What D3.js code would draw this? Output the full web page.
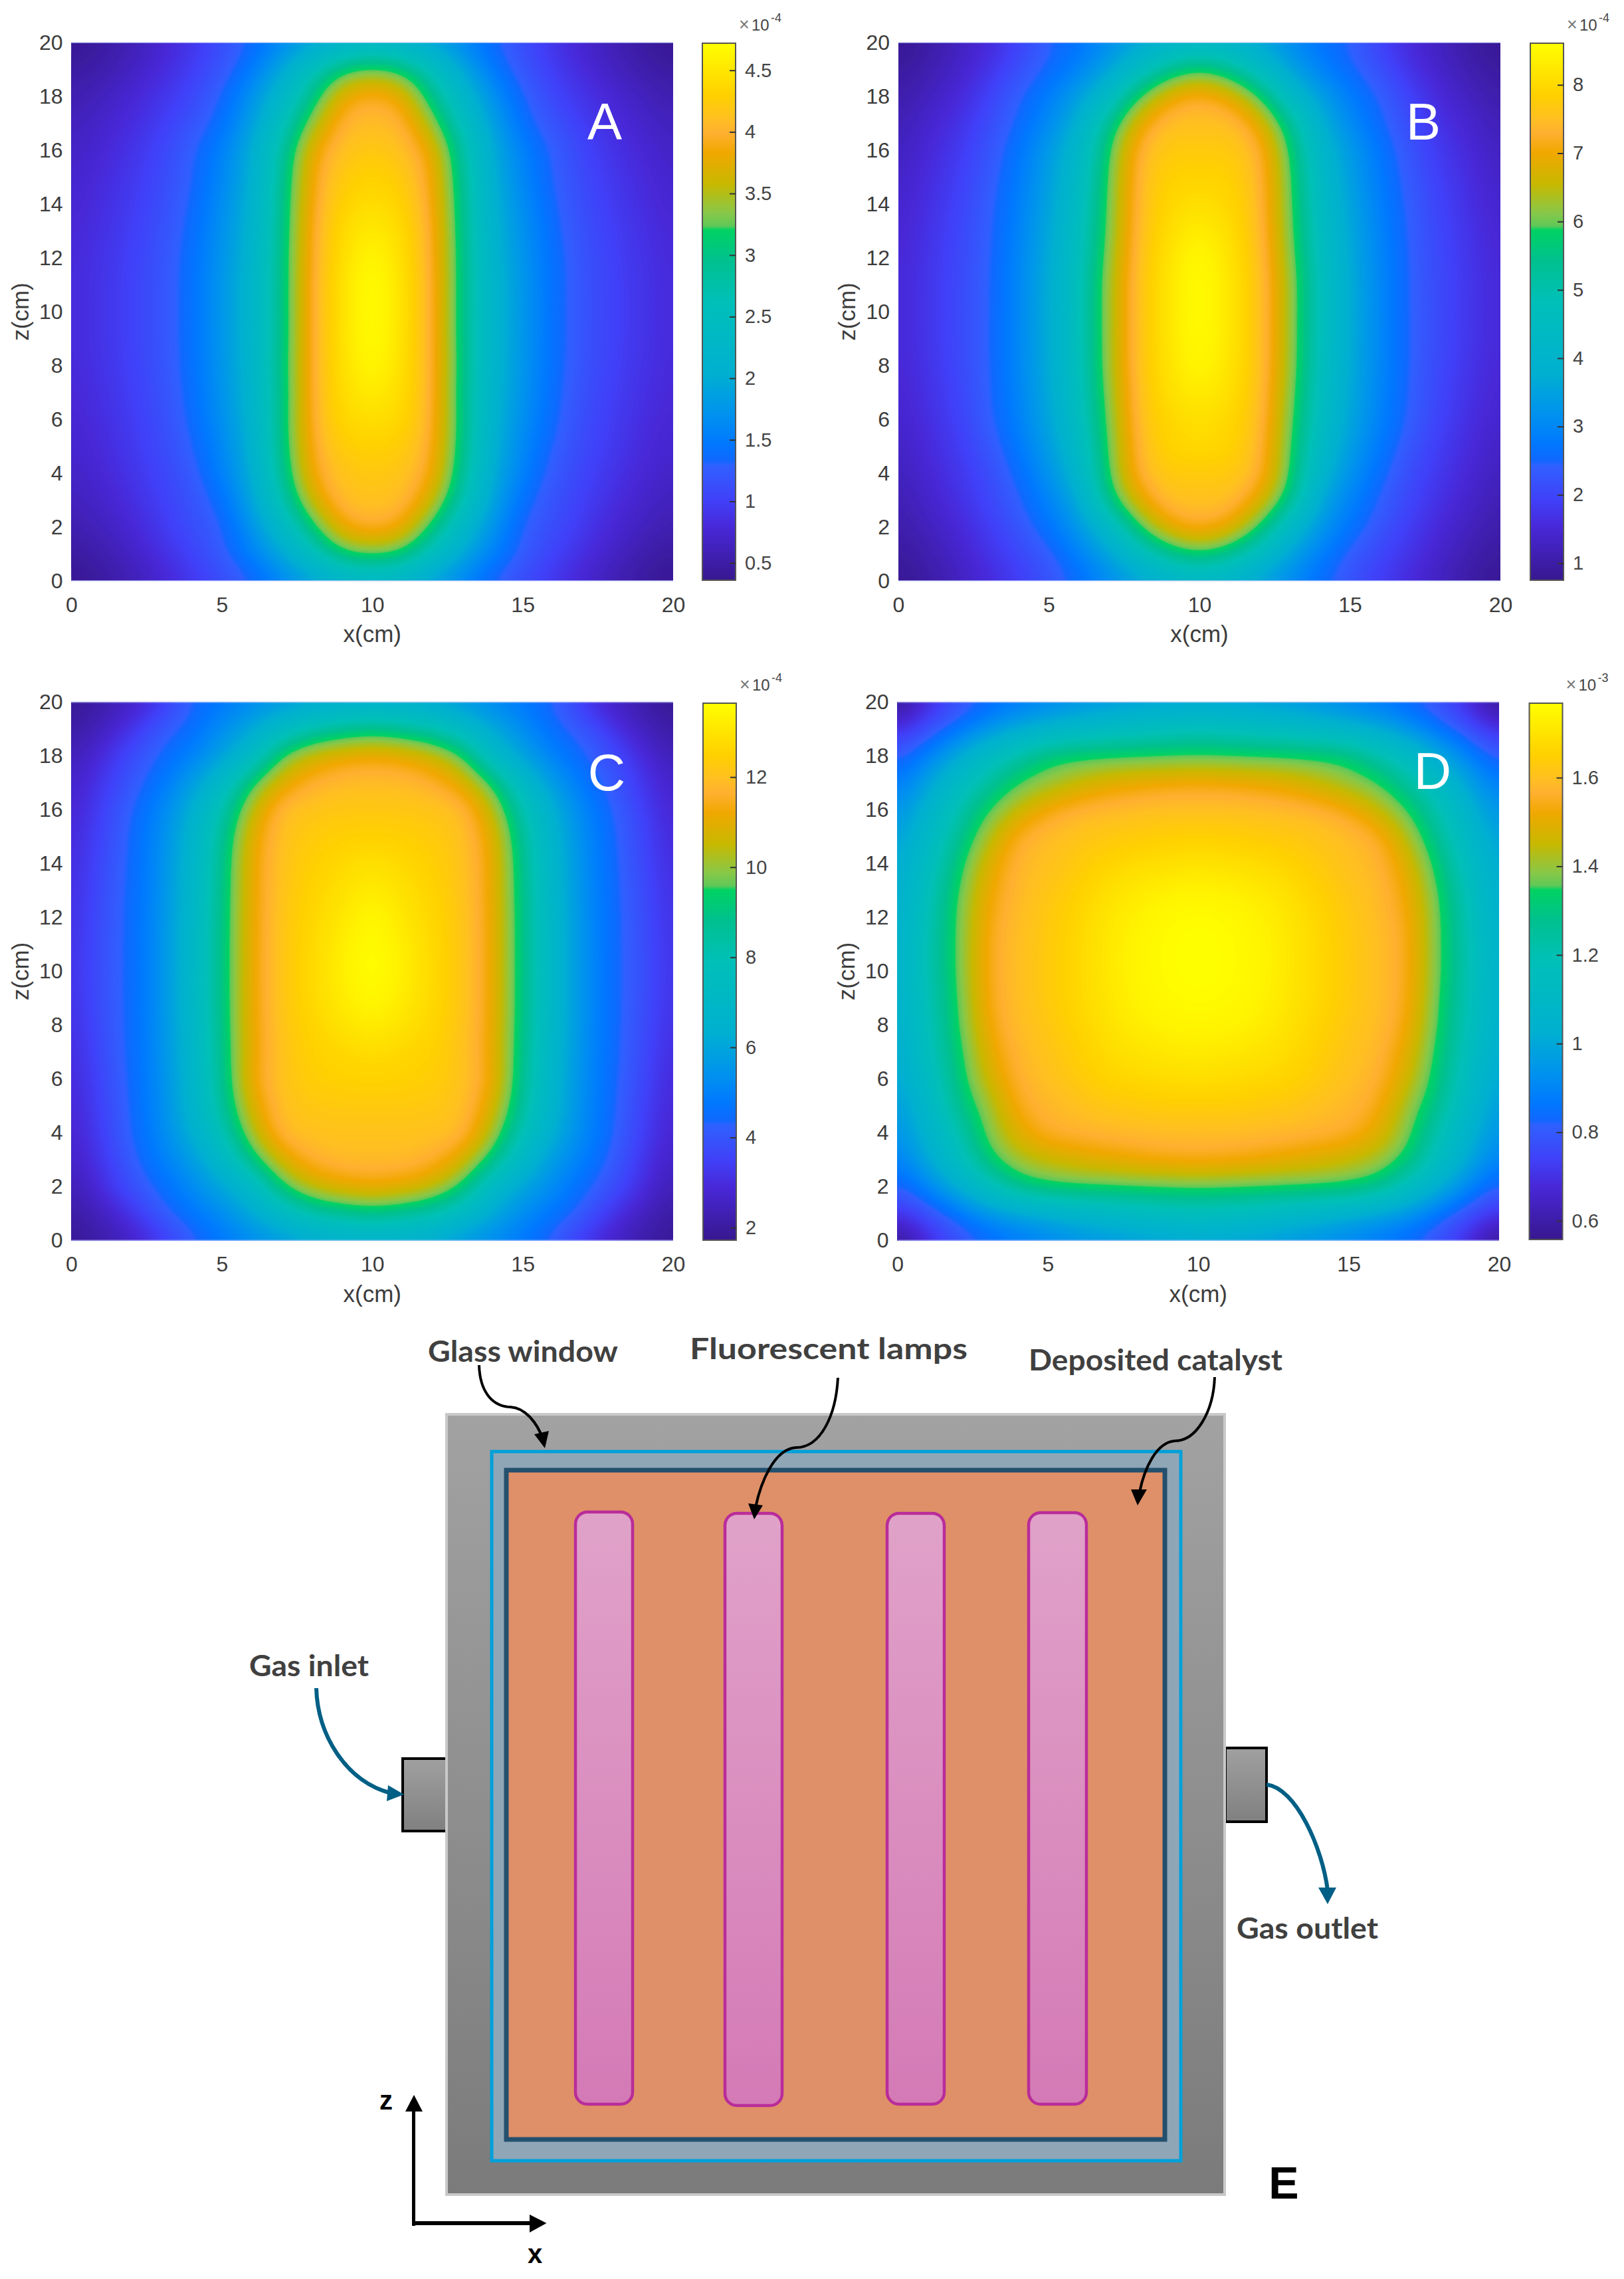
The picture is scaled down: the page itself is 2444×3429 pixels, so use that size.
<!DOCTYPE html>
<html>
<head>
<meta charset="utf-8">
<title>Panels A-D and reactor sketch E</title>
<script src="https://d3js.org/d3.v7.min.js"></script>
<style>
  html, body { margin: 0; padding: 0; background: #fff; }
  svg { display: block; }
  text { font-family: "Liberation Sans", Arial, sans-serif; }
</style>
</head>
<body>
<div id="chart"></div>
<script>
// axis ticks
var xTicks = [0, 5, 10, 15, 20];
var zTicks = [0, 2, 4, 6, 8, 10, 12, 14, 16, 18, 20];
var gridX = [0, 20];

// colour bar ticks and ranges
var barTicksA = [0.5, 1, 1.5, 2, 2.5, 3, 3.5, 4, 4.5];
var barTicksB = [1, 2, 3, 4, 5, 6, 7, 8];
var barTicksC = [2, 4, 6, 8, 10, 12];
var barTicksD = [0.6, 0.8, 1, 1.2, 1.4, 1.6];
var rangeA = [0.36, 4.72];
var rangeB = [0.75, 8.61];
var rangeC = [1.72, 13.64];
var rangeD = [0.558, 1.768];

// colour map sampled off the bars, bottom (0) to top (1)
var colorStops = [0, 0.016, 0.099, 0.148, 0.213, 0.223, 0.255, 0.304, 0.387, 0.52, 0.594, 0.652, 0.66, 0.684, 0.738, 0.796, 0.833, 0.861, 0.903, 0.953, 1];
var colorValues = ["#38188f", "#3a1a9a", "#4828d8", "#4040f8", "#3060ff", "#1068ff", "#0078ff", "#0090f0", "#00b0d0", "#00c0b8", "#00c090", "#00d262", "#60c858", "#88c848", "#c8b800", "#f0a800", "#ffb030", "#ffc020", "#ffd000", "#ffe800", "#ffff00"];

// values at every 1 cm, one row per z (z = 0 first), x = 0..20
var valuesA = [
  [.36,.46,.58,.74,.92,1.1,1.3,1.58,1.85,2.08,2.2,2.08,1.85,1.58,1.3,1.1,.92,.74,.58,.46,.36],
  [.45,.54,.68,.85,1.03,1.25,1.55,1.95,2.5,3.12,3.28,3.12,2.5,1.95,1.55,1.25,1.03,.85,.68,.54,.45],
  [.55,.64,.77,.94,1.12,1.3,1.72,2.3,3.1,3.8,3.95,3.8,3.1,2.3,1.72,1.3,1.12,.94,.77,.64,.55],
  [.62,.71,.84,1,1.17,1.42,1.9,2.7,3.6,4.08,4.12,4.08,3.6,2.7,1.9,1.42,1.17,1,.84,.71,.62],
  [.68,.77,.9,1.05,1.23,1.55,2,2.9,3.85,4.15,4.2,4.15,3.85,2.9,2,1.55,1.23,1.05,.9,.77,.68],
  [.72,.81,.94,1.09,1.3,1.62,2.08,3,3.92,4.25,4.3,4.25,3.92,3,2.08,1.62,1.3,1.09,.94,.81,.72],
  [.75,.84,.97,1.12,1.36,1.68,2.13,3.02,3.97,4.35,4.42,4.35,3.97,3.02,2.13,1.68,1.36,1.12,.97,.84,.75],
  [.77,.87,.99,1.15,1.39,1.72,2.17,3,3.98,4.4,4.55,4.4,3.98,3,2.17,1.72,1.39,1.15,.99,.87,.77],
  [.79,.89,1.01,1.17,1.41,1.74,2.19,3.02,3.99,4.43,4.66,4.43,3.99,3.02,2.19,1.74,1.41,1.17,1.01,.89,.79],
  [.8,.9,1.02,1.18,1.42,1.75,2.2,3,3.98,4.45,4.71,4.45,3.98,3,2.2,1.75,1.42,1.18,1.02,.9,.8],
  [.8,.9,1.02,1.18,1.42,1.75,2.2,3,3.98,4.45,4.72,4.45,3.98,3,2.2,1.75,1.42,1.18,1.02,.9,.8],
  [.8,.9,1.02,1.18,1.42,1.75,2.2,3,3.98,4.45,4.72,4.45,3.98,3,2.2,1.75,1.42,1.18,1.02,.9,.8],
  [.79,.89,1.01,1.17,1.41,1.73,2.17,3,3.96,4.42,4.65,4.42,3.96,3,2.17,1.73,1.41,1.17,1.01,.89,.79],
  [.77,.87,.99,1.15,1.38,1.7,2.13,2.98,3.94,4.38,4.55,4.38,3.94,2.98,2.13,1.7,1.38,1.15,.99,.87,.77],
  [.74,.84,.96,1.12,1.34,1.66,2.1,2.95,3.9,4.3,4.42,4.3,3.9,2.95,2.1,1.66,1.34,1.12,.96,.84,.74],
  [.71,.81,.93,1.09,1.3,1.6,2.04,2.9,3.85,4.22,4.32,4.22,3.85,2.9,2.04,1.6,1.3,1.09,.93,.81,.71],
  [.67,.77,.89,1.05,1.28,1.55,2,2.8,3.75,4.12,4.2,4.12,3.75,2.8,2,1.55,1.28,1.05,.89,.77,.67],
  [.62,.71,.83,.98,1.17,1.42,1.85,2.55,3.4,4,4.08,4,3.4,2.55,1.85,1.42,1.17,.98,.83,.71,.62],
  [.55,.64,.76,.9,1.07,1.33,1.7,2.25,3,3.75,3.92,3.75,3,2.25,1.7,1.33,1.07,.9,.76,.64,.55],
  [.46,.54,.66,.81,.98,1.2,1.5,1.95,2.55,3.12,3.3,3.12,2.55,1.95,1.5,1.2,.98,.81,.66,.54,.46],
  [.37,.46,.58,.74,.9,1.12,1.35,1.6,1.88,2.08,2.2,2.08,1.88,1.6,1.35,1.12,.9,.74,.58,.46,.37]
];
var valuesB = [
  [.78,.98,1.25,1.55,1.85,2.2,2.6,3.05,3.5,3.9,4.1,3.9,3.5,3.05,2.6,2.2,1.85,1.55,1.25,.98,.78],
  [.9,1.1,1.38,1.7,2.02,2.38,2.9,3.55,4.5,5.4,5.8,5.4,4.5,3.55,2.9,2.38,2.02,1.7,1.38,1.1,.9],
  [1.02,1.25,1.52,1.85,2.25,2.7,3.3,4.3,5.85,6.85,7.2,6.85,5.85,4.3,3.3,2.7,2.25,1.85,1.52,1.25,1.02],
  [1.12,1.38,1.66,2,2.42,2.95,3.65,5.5,6.8,7.5,7.5,7.5,6.8,5.5,3.65,2.95,2.42,2,1.66,1.38,1.12],
  [1.22,1.48,1.76,2.1,2.6,3.2,4.1,5.9,7.3,7.7,7.7,7.7,7.3,5.9,4.1,3.2,2.6,2.1,1.76,1.48,1.22],
  [1.3,1.56,1.85,2.25,2.78,3.4,4.35,6,7.4,7.9,8,7.9,7.4,6,4.35,3.4,2.78,2.25,1.85,1.56,1.3],
  [1.38,1.63,1.94,2.38,2.9,3.55,4.55,6.1,7.5,7.95,8.1,7.95,7.5,6.1,4.55,3.55,2.9,2.38,1.94,1.63,1.38],
  [1.44,1.68,1.99,2.42,2.96,3.63,4.65,6.2,7.55,8.1,8.3,8.1,7.55,6.2,4.65,3.63,2.96,2.42,1.99,1.68,1.44],
  [1.48,1.72,2.03,2.44,3,3.68,4.72,6.28,7.6,8.15,8.5,8.15,7.6,6.28,4.72,3.68,3,2.44,2.03,1.72,1.48],
  [1.5,1.75,2.05,2.45,3,3.7,4.75,6.3,7.6,8.2,8.58,8.2,7.6,6.3,4.75,3.7,3,2.45,2.05,1.75,1.5],
  [1.5,1.75,2.05,2.44,3,3.7,4.75,6.3,7.6,8.2,8.6,8.2,7.6,6.3,4.75,3.7,3,2.44,2.05,1.75,1.5],
  [1.5,1.75,2.05,2.44,3,3.7,4.75,6.3,7.6,8.2,8.6,8.2,7.6,6.3,4.75,3.7,3,2.44,2.05,1.75,1.5],
  [1.48,1.73,2.03,2.42,2.98,3.65,4.68,6.2,7.55,8.15,8.55,8.15,7.55,6.2,4.68,3.65,2.98,2.42,2.03,1.73,1.48],
  [1.44,1.7,2,2.4,2.93,3.6,4.6,6.1,7.5,8.05,8.35,8.05,7.5,6.1,4.6,3.6,2.93,2.4,2,1.7,1.44],
  [1.38,1.65,1.95,2.36,2.88,3.52,4.5,6.05,7.45,7.95,8.1,7.95,7.45,6.05,4.5,3.52,2.88,2.36,1.95,1.65,1.38],
  [1.32,1.6,1.88,2.3,2.8,3.42,4.35,6,7.4,7.85,7.9,7.85,7.4,6,4.35,3.42,2.8,2.3,1.88,1.6,1.32],
  [1.25,1.52,1.8,2.22,2.72,3.35,4.2,5.85,7.3,7.7,7.7,7.7,7.3,5.85,4.2,3.35,2.72,2.22,1.8,1.52,1.25],
  [1.15,1.42,1.68,2.08,2.55,3.05,3.85,5.4,6.85,7.5,7.5,7.5,6.85,5.4,3.85,3.05,2.55,2.08,1.68,1.42,1.15],
  [1.03,1.27,1.52,1.95,2.42,2.85,3.45,4.4,5.9,6.85,7.2,6.85,5.9,4.4,3.45,2.85,2.42,1.95,1.52,1.27,1.03],
  [.9,1.1,1.38,1.7,2.15,2.55,2.95,3.55,4.5,5.4,5.85,5.4,4.5,3.55,2.95,2.55,2.15,1.7,1.38,1.1,.9],
  [.78,.98,1.25,1.55,1.95,2.42,2.7,3.1,3.55,3.95,4.1,3.95,3.55,3.1,2.7,2.42,1.95,1.55,1.25,.98,.78]
];
var valuesC = [
  [1.8,2.15,2.6,3.3,4.15,4.7,5.2,5.6,6,6.25,6.35,6.25,6,5.6,5.2,4.7,4.15,3.3,2.6,2.15,1.8],
  [2.05,2.5,3.2,4.1,4.7,5.3,6.1,7.2,8.2,8.7,8.95,8.7,8.2,7.2,6.1,5.3,4.7,4.1,3.2,2.5,2.05],
  [2.3,3,3.85,4.5,5.2,6,7.1,9.3,10.5,10.95,11.15,10.95,10.5,9.3,7.1,6,5.2,4.5,3.85,3,2.3],
  [2.55,3.25,4.15,4.9,5.7,7,9,10.8,11.6,11.85,11.85,11.85,11.6,10.8,9,7,5.7,4.9,4.15,3.25,2.55],
  [2.7,3.45,4.35,5.15,6.3,7.9,10.2,11.8,12,12.05,12.05,12.05,12,11.8,10.2,7.9,6.3,5.15,4.35,3.45,2.7],
  [2.8,3.55,4.4,5.25,6.6,8.5,10.8,11.95,12.2,12.25,12.25,12.25,12.2,11.95,10.8,8.5,6.6,5.25,4.4,3.55,2.8],
  [2.88,3.65,4.45,5.3,6.7,8.7,11.2,12.05,12.4,12.5,12.55,12.5,12.4,12.05,11.2,8.7,6.7,5.3,4.45,3.65,2.88],
  [2.95,3.75,4.48,5.35,6.8,8.85,11.1,12.05,12.5,12.65,12.8,12.65,12.5,12.05,11.1,8.85,6.8,5.35,4.48,3.75,2.95],
  [3.05,3.8,4.5,5.38,6.85,8.9,11.15,12.1,12.6,12.95,13.2,12.95,12.6,12.1,11.15,8.9,6.85,5.38,4.5,3.8,3.05],
  [3.1,3.85,4.5,5.4,6.9,8.95,11.15,12.15,12.7,13.15,13.5,13.15,12.7,12.15,11.15,8.95,6.9,5.4,4.5,3.85,3.1],
  [3.15,3.85,4.5,5.4,6.9,8.95,11.15,12.15,12.7,13.25,13.64,13.25,12.7,12.15,11.15,8.95,6.9,5.4,4.5,3.85,3.15],
  [3.1,3.85,4.5,5.4,6.9,8.95,11.15,12.15,12.7,13.2,13.6,13.2,12.7,12.15,11.15,8.95,6.9,5.4,4.5,3.85,3.1],
  [3.08,3.82,4.5,5.38,6.87,8.92,11.15,12.12,12.65,13.05,13.5,13.05,12.65,12.12,11.15,8.92,6.87,5.38,4.5,3.82,3.08],
  [3.02,3.78,4.48,5.35,6.82,8.88,11.12,12.08,12.55,12.9,13.2,12.9,12.55,12.08,11.12,8.88,6.82,5.35,4.48,3.78,3.02],
  [2.95,3.7,4.45,5.32,6.75,8.8,11.1,12.05,12.45,12.7,12.9,12.7,12.45,12.05,11.1,8.8,6.75,5.32,4.45,3.7,2.95],
  [2.88,3.6,4.42,5.25,6.6,8.6,10.95,11.98,12.3,12.45,12.5,12.45,12.3,11.98,10.95,8.6,6.6,5.25,4.42,3.6,2.88],
  [2.75,3.48,4.3,5.1,6.3,8.15,10.4,11.85,12.1,12.2,12.2,12.2,12.1,11.85,10.4,8.15,6.3,5.1,4.3,3.48,2.75],
  [2.6,3.25,4.05,4.75,5.7,7.1,9.4,10.9,11.6,11.85,11.9,11.85,11.6,10.9,9.4,7.1,5.7,4.75,4.05,3.25,2.6],
  [2.35,2.95,3.75,4.4,5,5.9,7.2,9.6,10.6,11.05,11.2,11.05,10.6,9.6,7.2,5.9,5,4.4,3.75,2.95,2.35],
  [2.05,2.5,3.2,4.05,4.55,5.3,6.1,7.2,8.2,8.7,9,8.7,8.2,7.2,6.1,5.3,4.55,4.05,3.2,2.5,2.05],
  [1.8,2.15,2.6,3.3,4.3,4.75,5.2,5.6,5.95,6.2,6.3,6.2,5.95,5.6,5.2,4.75,4.3,3.3,2.6,2.15,1.8]
];
var valuesD = [
  [.56,.68,.77,.83,.87,.9,.93,.95,.97,.98,.99,.98,.97,.95,.93,.9,.87,.83,.77,.68,.56],
  [.7,.78,.86,.94,.99,1.03,1.07,1.1,1.13,1.15,1.16,1.15,1.13,1.1,1.07,1.03,.99,.94,.86,.78,.7],
  [.81,.9,1.02,1.15,1.28,1.33,1.345,1.35,1.355,1.36,1.365,1.36,1.355,1.35,1.345,1.33,1.28,1.15,1.02,.9,.81],
  [.88,1,1.14,1.31,1.41,1.45,1.48,1.5,1.52,1.535,1.54,1.535,1.52,1.5,1.48,1.45,1.41,1.31,1.14,1,.88],
  [.93,1.05,1.2,1.37,1.49,1.555,1.57,1.58,1.585,1.59,1.59,1.59,1.585,1.58,1.57,1.555,1.49,1.37,1.2,1.05,.93],
  [.96,1.09,1.27,1.4,1.54,1.58,1.6,1.62,1.63,1.64,1.64,1.64,1.63,1.62,1.6,1.58,1.54,1.4,1.27,1.09,.96],
  [.99,1.13,1.3,1.46,1.565,1.6,1.63,1.66,1.67,1.68,1.685,1.68,1.67,1.66,1.63,1.6,1.565,1.46,1.3,1.13,.99],
  [1.01,1.16,1.32,1.49,1.58,1.61,1.645,1.68,1.7,1.71,1.72,1.71,1.7,1.68,1.645,1.61,1.58,1.49,1.32,1.16,1.01],
  [1.03,1.18,1.34,1.52,1.59,1.62,1.66,1.695,1.725,1.74,1.745,1.74,1.725,1.695,1.66,1.62,1.59,1.52,1.34,1.18,1.03],
  [1.04,1.19,1.35,1.535,1.595,1.63,1.67,1.705,1.74,1.755,1.76,1.755,1.74,1.705,1.67,1.63,1.595,1.535,1.35,1.19,1.04],
  [1.04,1.2,1.36,1.54,1.595,1.63,1.67,1.71,1.745,1.76,1.768,1.76,1.745,1.71,1.67,1.63,1.595,1.54,1.36,1.2,1.04],
  [1.04,1.2,1.36,1.54,1.595,1.63,1.67,1.71,1.745,1.76,1.768,1.76,1.745,1.71,1.67,1.63,1.595,1.54,1.36,1.2,1.04],
  [1.03,1.19,1.36,1.53,1.59,1.625,1.665,1.705,1.735,1.755,1.76,1.755,1.735,1.705,1.665,1.625,1.59,1.53,1.36,1.19,1.03],
  [1.02,1.17,1.345,1.51,1.585,1.615,1.65,1.69,1.715,1.73,1.74,1.73,1.715,1.69,1.65,1.615,1.585,1.51,1.345,1.17,1.02],
  [1,1.14,1.31,1.48,1.575,1.6,1.63,1.66,1.68,1.69,1.7,1.69,1.68,1.66,1.63,1.6,1.575,1.48,1.31,1.14,1],
  [.97,1.1,1.26,1.42,1.55,1.59,1.61,1.625,1.635,1.645,1.65,1.645,1.635,1.625,1.61,1.59,1.55,1.42,1.26,1.1,.97],
  [.93,1.05,1.2,1.345,1.45,1.53,1.57,1.585,1.595,1.6,1.6,1.6,1.595,1.585,1.57,1.53,1.45,1.345,1.2,1.05,.93],
  [.87,.98,1.12,1.24,1.35,1.4,1.45,1.49,1.51,1.525,1.53,1.525,1.51,1.49,1.45,1.4,1.35,1.24,1.12,.98,.87],
  [.8,.89,1,1.12,1.22,1.31,1.335,1.345,1.35,1.355,1.36,1.355,1.35,1.345,1.335,1.31,1.22,1.12,1,.89,.8],
  [.69,.78,.86,.94,1.01,1.06,1.1,1.13,1.15,1.17,1.18,1.17,1.15,1.13,1.1,1.06,1.01,.94,.86,.78,.69],
  [.56,.68,.77,.83,.87,.9,.93,.95,.97,.98,.99,.98,.97,.95,.93,.9,.87,.83,.77,.68,.56]
];

// sketch labels and lamp edges
var lampLeft = [866, 1091, 1335, 1548];
var lampRight = [952, 1177, 1421, 1635];
var lampTop = [2275, 2277, 2277, 2276];
var lampBottom = [3166, 3168, 3166, 3166];

var W = 2444, H = 3429;
var fine = 6;      // display cells per 1 cm read-off cell
var levels = 220;  // colour steps in a panel

var svg = d3.select("#chart").append("svg").attr("width", W).attr("height", H);
var defs = svg.append("defs");

var cmap = d3.scaleLinear().domain(colorStops).range(colorValues).clamp(true);

var barGrad = defs.append("linearGradient").attr("id", "barGrad")
    .attr("x1", 0).attr("y1", 1).attr("x2", 0).attr("y2", 0);
colorStops.forEach(function(s, i) {
    barGrad.append("stop").attr("offset", s).attr("stop-color", colorValues[i]);
});

function vGrad(id, top, bottom) {
    var g = defs.append("linearGradient").attr("id", id)
        .attr("x1", 0).attr("y1", 0).attr("x2", 0).attr("y2", 1);
    g.append("stop").attr("offset", 0).attr("stop-color", top);
    g.append("stop").attr("offset", 1).attr("stop-color", bottom);
}
vGrad("bodyGrad", "#a2a2a2", "#7b7b7b");
vGrad("stubGrad", "#a0a0a0", "#808080");
vGrad("lampGrad", "#e0a2c9", "#d47ab6");

// smooth the 1 cm readings for display, like interpolated shading in the original
function catmull(a, b, c, d, t) {
    return 0.5 * (2 * b + (c - a) * t + (2 * a - 5 * b + 4 * c - d) * t * t + (3 * b - a - 3 * c + d) * t * t * t);
}
function displayGrid(rows) {
    var n = rows.length, size = (n - 1) * fine + 1, out = new Float64Array(size * size);
    function at(r, c) {
        return rows[Math.max(0, Math.min(n - 1, r))][Math.max(0, Math.min(n - 1, c))];
    }
    for (var j = 0; j < size; j++) {
        var r0 = Math.min(n - 2, Math.floor(j / fine)), tr = j / fine - r0;
        for (var i = 0; i < size; i++) {
            var c0 = Math.min(n - 2, Math.floor(i / fine)), tc = i / fine - c0;
            var col = [-1, 0, 1, 2].map(function(dr) {
                return catmull(at(r0 + dr, c0 - 1), at(r0 + dr, c0), at(r0 + dr, c0 + 1), at(r0 + dr, c0 + 2), tc);
            });
            out[j * size + i] = catmull(col[0], col[1], col[2], col[3], tr);
        }
    }
    // takes the corners off the 1 cm grid
    if (d3.blur2) d3.blur2({ data: out, width: size, height: size }, 2);
    return { size: size, values: out };
}

// one heat map panel with axes, colour bar and letter
function drawPanel(p) {
    var g = svg.append("g");
    var x = d3.scaleLinear().domain(gridX).range([p.left, p.right]);
    var y = d3.scaleLinear().domain(gridX).range([p.bottom, p.top]);
    var tone = d3.scaleLinear().domain(p.range).range([0, 1]);

    defs.append("clipPath").attr("id", "clip" + p.name).append("rect")
        .attr("x", p.left).attr("y", p.top)
        .attr("width", p.right - p.left).attr("height", p.bottom - p.top);

    var grid = displayGrid(p.values);
    var step = (p.range[1] - p.range[0]) / levels;
    var thresholds = d3.range(levels).map(function(i) { return p.range[0] + i * step; });
    var bands = d3.contours().size([grid.size, grid.size]).thresholds(thresholds)(grid.values);

    // contour coordinates put value i at i + 0.5
    var toPlot = d3.geoTransform({
        point: function(px, py) {
            this.stream.point(x((px - 0.5) / fine), y((py - 0.5) / fine));
        }
    });
    var path = d3.geoPath(toPlot);

    var heat = g.append("g").attr("clip-path", "url(#clip" + p.name + ")");
    heat.append("rect").attr("x", p.left).attr("y", p.top)
        .attr("width", p.right - p.left).attr("height", p.bottom - p.top)
        .attr("fill", colorValues[0]);
    heat.selectAll("path").data(bands).enter().append("path")
        .attr("d", path)
        .attr("fill", function(d) { return cmap(tone(d.value + step / 2)); });

    // pale hairlines along the top and bottom edges
    [p.top, p.bottom].forEach(function(e) {
        g.append("line").attr("x1", p.left).attr("x2", p.right).attr("y1", e).attr("y2", e)
            .attr("stroke", "#c8d4ff").attr("stroke-opacity", 0.6).attr("stroke-width", 2);
    });

    // axes
    var xAxis = g.append("g").attr("transform", "translate(0," + p.bottom + ")")
        .call(d3.axisBottom(x).tickValues(xTicks).tickSize(0).tickPadding(24));
    var zAxis = g.append("g").attr("transform", "translate(" + p.left + ",0)")
        .call(d3.axisLeft(y).tickValues(zTicks).tickSize(0).tickPadding(13));
    [xAxis, zAxis].forEach(function(a) {
        a.select(".domain").remove();
        a.selectAll("text").attr("font-size", 32).attr("fill", "#3c3c3c")
            .attr("font-family", "Liberation Sans");
    });

    g.append("text").attr("x", (p.left + p.right) / 2).attr("y", p.bottom + 92)
        .attr("text-anchor", "middle").attr("font-size", 35).attr("fill", "#3c3c3c").text("x(cm)");
    g.append("text").attr("transform", "translate(" + (p.left - 65) + "," + ((p.top + p.bottom) / 2) + ") rotate(-90)")
        .attr("text-anchor", "middle").attr("font-size", 35).attr("fill", "#3c3c3c").text("z(cm)");

    // colour bar
    var by = d3.scaleLinear().domain(p.range).range([p.barBottom, p.barTop]);
    g.append("rect").attr("x", p.barLeft).attr("y", p.barTop)
        .attr("width", 50).attr("height", p.barBottom - p.barTop)
        .attr("fill", "url(#barGrad)").attr("stroke", "#555").attr("stroke-width", 2);
    var barAxis = g.append("g").attr("transform", "translate(" + (p.barLeft + 50) + ",0)")
        .call(d3.axisRight(by).tickValues(p.barTicks).tickSizeInner(-9).tickSizeOuter(0).tickPadding(14)
            .tickFormat(function(d) { return d; }));
    barAxis.select(".domain").remove();
    barAxis.selectAll("line").attr("stroke", "#333").attr("stroke-width", 2);
    barAxis.selectAll("text").attr("font-size", 29).attr("fill", "#444")
        .attr("font-family", "Liberation Sans");

    // scale factor above the bar
    var fx = p.barLeft + 50;
    g.append("text").attr("x", fx + 5).attr("y", p.barTop - 19).attr("font-size", 27).attr("fill", "#777").text("\u00d7");
    g.append("text").attr("x", fx + 24).attr("y", p.barTop - 19).attr("font-size", 24).attr("fill", "#444").text("10");
    g.append("text").attr("x", fx + 53).attr("y", p.barTop - 32).attr("font-size", 18).attr("fill", "#444").text(p.power);

    g.append("text").attr("x", p.letterX).attr("y", p.letterY).attr("text-anchor", "middle")
        .attr("font-size", 78).attr("fill", "#fff").text(p.name);
}

var panels = [
    { name: "A", values: valuesA, range: rangeA, barTicks: barTicksA, power: "-4", left: 107.5, right: 1013, top: 64, bottom: 874, barLeft: 1057, barTop: 65, barBottom: 873, letterX: 910, letterY: 210 },
    { name: "B", values: valuesB, range: rangeB, barTicks: barTicksB, power: "-4", left: 1352, right: 2258, top: 64, bottom: 874, barLeft: 2303, barTop: 65, barBottom: 873, letterX: 2142, letterY: 210 },
    { name: "C", values: valuesC, range: rangeC, barTicks: barTicksC, power: "-4", left: 107.5, right: 1013, top: 1056.5, bottom: 1866.5, barLeft: 1058, barTop: 1058, barBottom: 1866, letterX: 913, letterY: 1189 },
    { name: "D", values: valuesD, range: rangeD, barTicks: barTicksD, power: "-3", left: 1350.6, right: 2256, top: 1056.5, bottom: 1866.5, barLeft: 2301.5, barTop: 1058, barBottom: 1865, letterX: 2156, letterY: 1187 }
];
panels.forEach(drawPanel);

// reactor sketch (E)
var sketch = svg.append("g");

function box(x0, y0, x1, y1, fill, stroke, sw) {
    return sketch.append("rect").attr("x", x0).attr("y", y0)
        .attr("width", x1 - x0).attr("height", y1 - y0)
        .attr("fill", fill).attr("stroke", stroke).attr("stroke-width", sw);
}

box(606, 2646, 672, 2755, "url(#stubGrad)", "#000", 4);
box(1844, 2630, 1906, 2741, "url(#stubGrad)", "#000", 4);
box(672, 2128, 1843, 3302, "url(#bodyGrad)", "#c9c9c9", 4);
box(740, 2184, 1777, 3251, "#8fa6b7", "#00a0da", 5);
box(762, 2212, 1753, 3219, "#df9068", "#24506e", 7);

lampLeft.forEach(function(l, i) {
    box(l, lampTop[i], lampRight[i], lampBottom[i], "url(#lampGrad)", "#b92c9a", 4.5)
        .attr("rx", 18).attr("ry", 18);
});

function arrow(d, head, color, sw) {
    sketch.append("path").attr("d", d).attr("fill", "none").attr("stroke", color).attr("stroke-width", sw);
    sketch.append("path").attr("d", head).attr("fill", color);
}
arrow("M721,2054C722,2090 738,2116 768,2117C790,2118 808,2140 817,2165", "M804,2158L826,2153L820,2179Z", "#000", 4);
arrow("M1261,2073C1258,2130 1235,2178 1198,2178C1165,2180 1145,2230 1137,2268", "M1126,2262L1148,2265L1135,2286Z", "#000", 4);
arrow("M1828,2072C1826,2125 1800,2168 1768,2168C1740,2170 1722,2210 1715,2245", "M1702,2241L1726,2241L1712,2265Z", "#000", 4);
arrow("M476,2540C478,2610 520,2680 588,2698", "M584,2686L582,2710L608,2700Z", "#005f85", 6);
arrow("M1906,2685C1950,2690 1990,2780 1998,2844", "M1984,2840L2011,2840L1998,2865Z", "#005f85", 6);
arrow("M622.5,3349V3170", "M610,3177L636,3177L623,3152Z", "#000", 5);
arrow("M620,3345H800", "M797,3332L797,3359L822.5,3345Z", "#000", 6);

function note(t, x, y, wide) {
    sketch.append("text").attr("x", x).attr("y", y).text(t)
        .attr("textLength", wide).attr("lengthAdjust", "spacingAndGlyphs")
        .attr("font-size", 44).attr("font-weight", 700).attr("fill", "#404040")
        .style("font-family", "Lato");
}
note("Glass window", 644, 2049, 286);
note("Fluorescent lamps", 1038, 2045, 418);
note("Deposited catalyst", 1548, 2062, 382);
note("Gas inlet", 375, 2522, 180);
note("Gas outlet", 1861, 2917, 213);

sketch.append("text").attr("x", 581).attr("y", 3174).attr("text-anchor", "middle")
    .attr("font-size", 40).attr("font-weight", 700).text("z");
sketch.append("text").attr("x", 805).attr("y", 3405).attr("text-anchor", "middle")
    .attr("font-size", 40).attr("font-weight", 700).text("x");
sketch.append("text").attr("x", 1932).attr("y", 3308).attr("text-anchor", "middle")
    .attr("font-size", 68).attr("font-weight", 700).text("E");
</script>
</body>
</html>
